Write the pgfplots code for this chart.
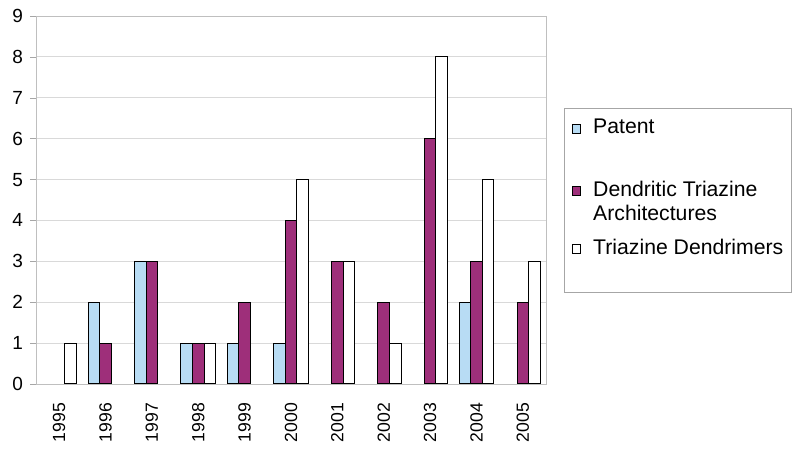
\documentclass[border=0pt]{standalone}
\usepackage{fontspec}
\setmainfont{Liberation Sans}
\usepackage{pgfplots}
\pgfplotsset{compat=1.18}
\definecolor{patent}{HTML}{B8DCF4}
\definecolor{dendritic}{HTML}{9E2F7A}

\begin{document}
\begin{tikzpicture}
\useasboundingbox (-18pt,-38pt) rectangle (382pt,192pt);
\begin{axis}[
    at={(0,0)}, anchor=south west,
    scale only axis,
    width=255pt, height=184pt,
    xmin=-0.5, xmax=10.5,
    ymin=0, ymax=9,
    ytick={0,...,9},
    xtick={0,...,10},
    xticklabels={1995,1996,1997,1998,1999,2000,2001,2002,2003,2004,2005},
    x tick label style={rotate=90, anchor=east, font=\fontsize{8.8}{10}\selectfont},
    y tick label style={font=\fontsize{9.5}{11}\selectfont},
    xticklabel shift=3pt,
    major x tick style={draw=none},
    extra x ticks={-0.5,0.5,...,10.5},
    extra x tick labels={},
    extra x tick style={grid=none, major tick length=4pt, tick style={gray!70}},
    ytick pos=left, xtick pos=bottom,
    tick align=outside,
    major tick length=3pt,
    tick style={gray!70},
    ymajorgrids,
    grid style={gray!30},
    axis line style={gray!50},
    /pgf/number format/assume math mode=true,
    ybar=0pt, bar width=5.8pt,
    every axis plot/.append style={draw=black, line width=0.5pt},
    legend image code/.code={\draw[#1] (0pt,0.4pt) rectangle (4pt,4.9pt);},
    legend style={
        at={(rel axis cs:1.035,0.247)}, anchor=south west,
        draw=gray!70, fill=white,
        font=\fontsize{10.6}{12}\selectfont,
        cells={anchor=base west},
        nodes={inner xsep=0pt, inner ysep=0pt},
        /tikz/every odd column/.append style={column sep=6pt},
        row sep=9.5pt,
        inner xsep=4pt, inner ysep=5.4pt,
    },
]
\addplot[fill=patent] coordinates {
    (1,2) (2,3) (3,1) (4,1) (5,1) (9,2)
};
\addplot[fill=dendritic] coordinates {
    (1,1) (2,3) (3,1) (4,2) (5,4) (6,3) (7,2) (8,6) (9,3) (10,2)
};
\addplot[fill=white] coordinates {
    (0,1) (3,1) (5,5) (6,3) (7,1) (8,8) (9,5) (10,3)
};
\addlegendentry[text depth=14pt]{Patent}
\addlegendentry[text depth=12pt]{\vtop{\hbox{Dendritic Triazine}\hbox{Architectures}}}
\addlegendentry[text depth=13.6pt]{Triazine Dendrimers}
\end{axis}
\end{tikzpicture}
\end{document}
